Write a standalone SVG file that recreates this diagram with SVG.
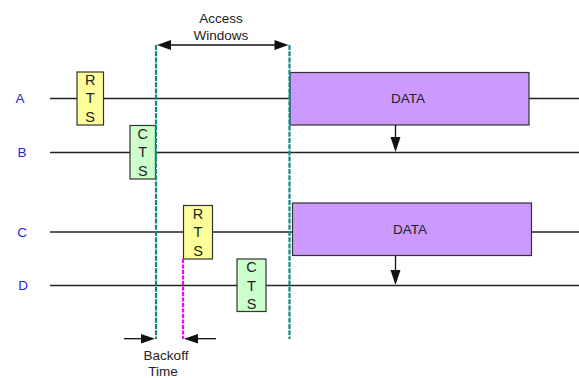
<svg xmlns="http://www.w3.org/2000/svg" width="579" height="378" viewBox="0 0 579 378">
<style>
text{font-family:"Liberation Sans",Arial,sans-serif;font-size:13.5px;fill:#222;text-anchor:middle}
.lt{font-size:14.5px}
.lbl{fill:#2424e6}
.tl{stroke:#222;stroke-width:1.5;fill:none}
.rts{fill:#ffff99;stroke:#333;stroke-width:1.2}
.cts{fill:#ccffcc;stroke:#333;stroke-width:1.2}
.data{fill:#cc99ff;stroke:#333;stroke-width:1.2}
.win{stroke:#108888;stroke-width:2.2;stroke-dasharray:5,1.2;fill:none}
.bo{stroke:#ff00ff;stroke-width:2.2;stroke-dasharray:4,1.5;fill:none}
.arr{stroke:#111;stroke-width:1.3;fill:none}
.ah{fill:#111}
</style>
<g id="timelines">
<line class="tl" x1="50" y1="98.5" x2="579" y2="98.5"/>
<line class="tl" x1="50" y1="152.5" x2="579" y2="152.5"/>
<line class="tl" x1="50" y1="232" x2="579" y2="232"/>
<line class="tl" x1="50" y1="285.5" x2="579" y2="285.5"/>
</g>
<g id="labels">
<text class="lbl" x="20" y="103">A</text>
<text class="lbl" x="22" y="157">B</text>
<text class="lbl" x="22" y="237">C</text>
<text class="lbl" x="23" y="290">D</text>
</g>
<g id="rtsA"><rect class="rts" x="77" y="72" width="26.5" height="53"/>
<text class="lt" x="90.2" y="84.5">R</text><text class="lt" x="90.2" y="103">T</text><text class="lt" x="90.2" y="121.5">S</text></g>
<g id="ctsB"><rect class="cts" x="130" y="125.5" width="25.5" height="53.5"/>
<text class="lt" x="142.8" y="138.5">C</text><text class="lt" x="142.8" y="157">T</text><text class="lt" x="142.8" y="175.5">S</text></g>
<g id="rtsC"><rect class="rts" x="183.5" y="205.5" width="29" height="53.5"/>
<text class="lt" x="198" y="218.5">R</text><text class="lt" x="198" y="237">T</text><text class="lt" x="198" y="255.5">S</text></g>
<g id="ctsD"><rect class="cts" x="237" y="259" width="29" height="52.5"/>
<text class="lt" x="251.5" y="272">C</text><text class="lt" x="251.5" y="290.5">T</text><text class="lt" x="251.5" y="309">S</text></g>
<g id="dataA"><rect class="data" x="290" y="72.5" width="239" height="52.5"/>
<text x="408" y="103">DATA</text></g>
<g id="dataC"><rect class="data" x="292.5" y="203" width="239" height="52.5"/>
<text x="410" y="233.5">DATA</text></g>
<g id="connectors">
<line class="win" x1="156" y1="45" x2="156" y2="339"/>
<line class="win" x1="289.5" y1="45" x2="289.5" y2="339"/>
<line class="bo" x1="183" y1="259" x2="183" y2="339"/>
<line class="arr" x1="170" y1="45" x2="275" y2="45"/>
<polygon class="ah" points="157,45 171,40 171,50"/>
<polygon class="ah" points="288.5,45 274.5,40 274.5,50"/>
<line class="arr" x1="124" y1="338.7" x2="142" y2="338.7"/>
<polygon class="ah" points="155,338.7 141,334 141,343.4"/>
<line class="arr" x1="198" y1="338.7" x2="216" y2="338.7"/>
<polygon class="ah" points="184,338.7 198,334 198,343.4"/>
<line class="arr" x1="395.5" y1="125" x2="395.5" y2="138"/>
<polygon class="ah" points="395.5,152 390.5,137 400.5,137"/>
<line class="arr" x1="395.5" y1="255.5" x2="395.5" y2="271"/>
<polygon class="ah" points="395.5,285 390.5,270 400.5,270"/>
</g>
<g id="annotations">
<text x="221" y="23">Access</text>
<text x="221" y="40">Windows</text>
<text x="166" y="360">Backoff</text>
<text x="163" y="376">Time</text>
</g>
</svg>
